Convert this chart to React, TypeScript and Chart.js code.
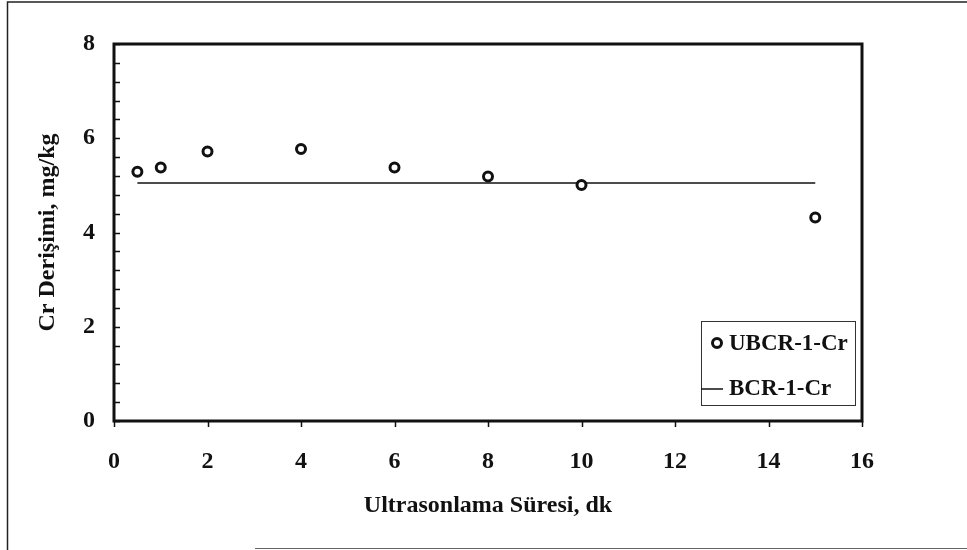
import React, { useEffect, useRef } from "react";
import { Chart, registerables } from "chart.js";

Chart.register(...registerables);

// ---- data ----
const sonicationMinutes = [0.5, 1, 2, 4, 6, 8, 10, 15];
const ubcrCr = [5.29, 5.38, 5.72, 5.77, 5.38, 5.19, 5.01, 4.32];
const bcrLineX = [0.5, 15];
const bcrLineY = [5.05, 5.05];
const xTickValues = [0, 2, 4, 6, 8, 10, 12, 14, 16];
const yTickValues = [0, 2, 4, 6, 8];
const yMinorStep = 0.4;
const seriesLabels = ["UBCR-1-Cr", "BCR-1-Cr"];
const xTitle = "Ultrasonlama Süresi, dk";
const yTitle = "Cr Derişimi, mg/kg";

const FONT = "'Liberation Serif', 'Times New Roman', serif";
const INK = "#111";

const framePlugin = {
  id: "frameAndLegend",
  beforeDraw(chart: any) {
    const ctx = chart.ctx;
    ctx.save();
    ctx.fillStyle = "#fff";
    ctx.fillRect(0, 0, chart.width, chart.height);
    // outer figure frame
    ctx.strokeStyle = "#222";
    ctx.lineWidth = 1.5;
    ctx.beginPath();
    ctx.moveTo(7.5, chart.height);
    ctx.lineTo(7.5, 2);
    ctx.lineTo(chart.width, 2);
    ctx.stroke();
    ctx.strokeStyle = "#666";
    ctx.lineWidth = 1;
    ctx.beginPath();
    ctx.moveTo(255, 548.5);
    ctx.lineTo(chart.width, 548.5);
    ctx.stroke();
    ctx.restore();
  },
  afterDraw(chart: any) {
    const ctx = chart.ctx;
    const a = chart.chartArea;
    const xs = chart.scales.x;
    const ys = chart.scales.y;
    ctx.save();
    ctx.strokeStyle = INK;
    // plot frame
    ctx.lineWidth = 3;
    ctx.strokeRect(a.left, a.top, a.right - a.left, a.bottom - a.top);
    // x ticks (outward)
    ctx.lineWidth = 1.5;
    ctx.beginPath();
    for (const v of xTickValues) {
      const px = Math.round(xs.getPixelForValue(v)) + 0.5;
      ctx.moveTo(px, a.bottom);
      ctx.lineTo(px, a.bottom + 6);
    }
    // y minor ticks (inward)
    const n = Math.round((ys.max - ys.min) / yMinorStep);
    for (let i = 0; i <= n; i++) {
      const py = Math.round(ys.getPixelForValue(ys.min + i * yMinorStep)) + 0.5;
      ctx.moveTo(a.left, py);
      ctx.lineTo(a.left + 6, py);
    }
    ctx.stroke();

    // legend
    const lw = 154, lh = 84;
    const lx = a.right - 161;
    const ly = a.bottom - 100;
    ctx.lineWidth = 1;
    ctx.strokeStyle = "#333";
    ctx.strokeRect(lx + 0.5, ly + 0.5, lw, lh);
    const ds0 = chart.data.datasets[0];
    const ds1 = chart.data.datasets[1];
    // marker
    ctx.beginPath();
    ctx.arc(lx + 16, ly + 22, 4.5, 0, Math.PI * 2);
    ctx.fillStyle = "#fff";
    ctx.fill();
    ctx.lineWidth = 3;
    ctx.strokeStyle = INK;
    ctx.stroke();
    // line sample
    ctx.lineWidth = 1.5;
    ctx.beginPath();
    ctx.moveTo(lx, ly + 68);
    ctx.lineTo(lx + 22, ly + 68);
    ctx.stroke();
    ctx.fillStyle = INK;
    ctx.font = `bold 23px ${FONT}`;
    ctx.textBaseline = "middle";
    ctx.textAlign = "left";
    ctx.fillText(ds0.label, lx + 28, ly + 23);
    ctx.fillText(ds1.label, lx + 28, ly + 68);
    ctx.restore();
  },
};

export default function App() {
  const canvasRef = useRef<HTMLCanvasElement | null>(null);

  useEffect(() => {
    const canvas = canvasRef.current;
    if (!canvas) return;
    const chart = new Chart(canvas, {
      type: "scatter",
      data: {
        datasets: [
          {
            label: seriesLabels[0],
            data: sonicationMinutes.map((x, i) => ({ x, y: ubcrCr[i] })),
            showLine: false,
            pointStyle: "circle",
            pointRadius: 4.5,
            pointBorderWidth: 3,
            pointBorderColor: INK,
            pointBackgroundColor: "#fff",
            order: 0,
          },
          {
            label: seriesLabels[1],
            data: bcrLineX.map((x, i) => ({ x, y: bcrLineY[i] })),
            showLine: true,
            borderColor: INK,
            borderWidth: 1.5,
            pointRadius: 0,
            order: 1,
          },
        ],
      },
      options: {
        animation: false,
        responsive: false,
        layout: { padding: { left: 0, top: 44, right: 105, bottom: 0 } },
        plugins: {
          legend: { display: false },
          tooltip: { enabled: false },
        },
        scales: {
          x: {
            type: "linear",
            min: 0,
            max: 16,
            afterFit(scale: any) {
              scale.height = 129;
            },
            afterBuildTicks(scale: any) {
              scale.ticks = xTickValues.map((v) => ({ value: v }));
            },
            grid: { display: false, drawTicks: false },
            border: { display: false },
            ticks: {
              color: INK,
              padding: 26,
              maxRotation: 0,
              font: { family: FONT, size: 24, weight: "bold" },
            },
            title: {
              display: true,
              text: xTitle,
              color: INK,
              padding: { top: 0, bottom: 30 },
              font: { family: FONT, size: 24, weight: "bold" },
            },
          },
          y: {
            type: "linear",
            min: 0,
            max: 8,
            afterFit(scale: any) {
              scale.width = 114;
            },
            afterBuildTicks(scale: any) {
              scale.ticks = yTickValues.map((v) => ({ value: v }));
            },
            grid: { display: false, drawTicks: false },
            border: { display: false },
            ticks: {
              color: INK,
              padding: 19,
              font: { family: FONT, size: 24, weight: "bold" },
            },
            title: {
              display: true,
              text: yTitle,
              color: INK,
              padding: { top: 33, bottom: 0 },
              font: { family: FONT, size: 24, weight: "bold" },
            },
          },
        },
      },
      plugins: [framePlugin],
    });
    return () => chart.destroy();
  }, []);

  return (
    <div style={{ position: "fixed", left: 0, top: 0, width: 967, height: 550 }}>
      <canvas ref={canvasRef} width={967} height={550} style={{ display: "block" }} />
    </div>
  );
}
